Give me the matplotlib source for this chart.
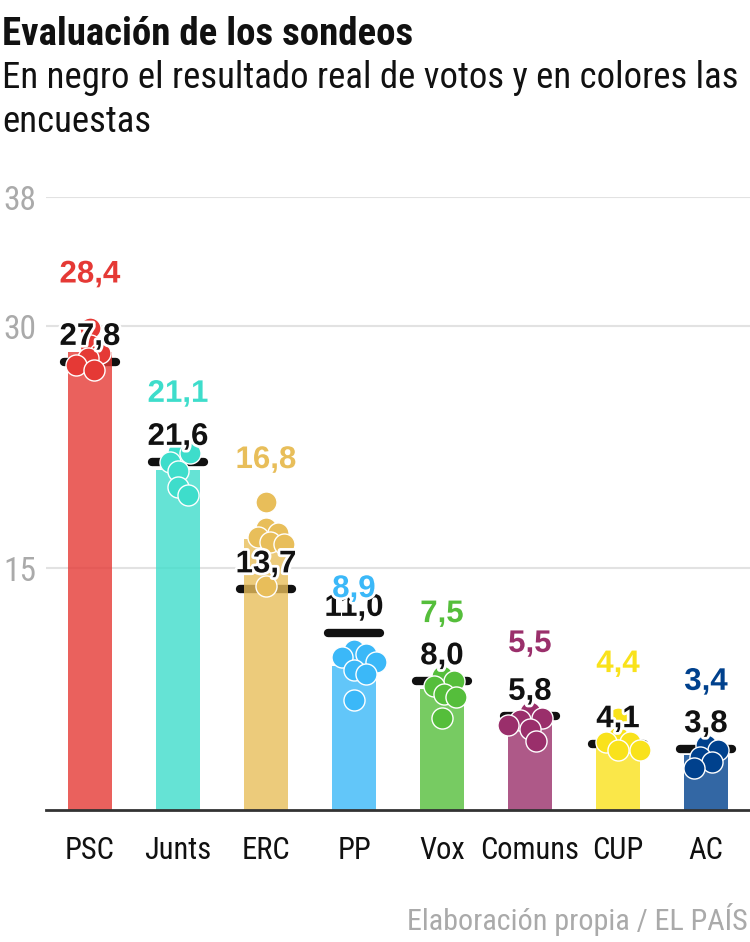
import matplotlib.pyplot as plt
import matplotlib.patheffects as pe

# data
parties = ['PSC', 'Junts', 'ERC', 'PP', 'Vox', 'Comuns', 'CUP', 'AC']
poll_avg = [28.4, 21.1, 16.8, 8.9, 7.5, 5.5, 4.4, 3.4]
real_result = [27.8, 21.6, 13.7, 11.0, 8.0, 5.8, 4.1, 3.8]
polls = [
    [29.9, 28.8, 28.3, 28.0, 27.6, 27.3],
    [22.2, 22.1, 21.6, 21.0, 20.0, 19.5],
    [19.1, 17.5, 17.2, 16.9, 16.6, 16.5, 13.9],
    [9.9, 9.7, 9.5, 9.2, 8.7, 8.4, 6.8],
    [8.3, 8.0, 7.7, 7.2, 7.0, 5.7],
    [6.1, 5.7, 5.6, 5.3, 5.0, 4.3],
    [5.7, 4.5, 4.2, 4.2, 3.7, 3.7],
    [4.0, 3.7, 3.3, 3.0, 2.6],
]
colors = ['#E53935', '#3EDDCB', '#E8BE5A', '#3BB8F8',
          '#55BE3B', '#9A2F6B', '#F9E21B', '#00418D']
# baseline of the coloured (poll) labels, in data units
poll_label_y = [32.7, 25.3, 21.2, 13.2, 11.65, 9.8, 8.55, 7.45]

narrow = ['Roboto Condensed', 'Liberation Sans Narrow', 'Roboto', 'DejaVu Sans']
plt.rcParams['font.family'] = narrow

W, H = 750, 942
fig = plt.figure(figsize=(W / 100, H / 100), dpi=100)
ax = fig.add_axes([46 / W, 132 / H, (W - 46) / W, (810 - 197) / H])
ax.set_xlim(-0.5, len(parties) - 0.5)
ax.set_ylim(0, 38)

# pixels per data unit, used for the swarm layout
ppx = (W - 46) / len(parties)
ppy = (810 - 197) / 38


def swarm_offsets(vals, min_d=12, step=2):
    placed, offs = [], []
    for v in vals:
        y = v * ppy
        k = 0
        while True:
            cands = [0.0] if k == 0 else [k * step, -k * step]
            hit = None
            for c in cands:
                if all((c - px) ** 2 + (y - py) ** 2 >= min_d ** 2 for px, py in placed):
                    hit = c
                    break
            if hit is not None:
                break
            k += 1
        placed.append((hit, y))
        offs.append(hit / ppx)
    return offs


halo = [pe.withStroke(linewidth=4, foreground='white')]
x = list(range(len(parties)))

# real result lines (under the translucent bars)
for i, r in enumerate(real_result):
    ax.plot([i - 0.3, i + 0.3], [r, r], color='#111111', lw=6,
            solid_capstyle='round', zorder=2, clip_on=False)

ax.bar(x, poll_avg, width=0.51, color=colors, alpha=0.8, zorder=3)

# individual polls
for i, vals in enumerate(polls):
    offs = swarm_offsets(vals)
    ax.scatter([i + o for o in offs], vals, s=230, color=colors[i],
               edgecolor='white', linewidth=1, zorder=4, clip_on=False)

# labels
for i, r in enumerate(real_result):
    ax.annotate(f'{r:.1f}'.replace('.', ','), (i, r), xytext=(0, 12),
                textcoords='offset points', ha='center', va='baseline',
                fontsize=22.5, fontweight='bold', family='Liberation Sans',
                color='#111111', path_effects=halo, zorder=5)
for i, v in enumerate(poll_avg):
    ax.text(i, poll_label_y[i], f'{v:.1f}'.replace('.', ','),
            ha='center', va='baseline', fontsize=22.5, fontweight='bold',
            family='Liberation Sans', color=colors[i],
            path_effects=halo, zorder=6)

# axes styling
ax.set_yticks([15, 30, 38])
ax.set_yticklabels(['15', '30', '38'], fontsize=24, color='#aaaaaa')
ax.tick_params(axis='y', length=0, pad=31)
for lab in ax.get_yticklabels():
    lab.set_horizontalalignment('left')
ax.set_xticks(x)
ax.set_xticklabels(parties, fontsize=22, color='#111111')
ax.tick_params(axis='x', length=0, pad=19)
ax.grid(axis='y', color='#e2e2e2', lw=1.5, zorder=0)
ax.set_axisbelow(True)
for s in ['left', 'right', 'top']:
    ax.spines[s].set_visible(False)
ax.spines['bottom'].set_color('#333333')
ax.spines['bottom'].set_linewidth(2)
ax.spines['bottom'].set_zorder(7)

# titles
fig.text(2 / W, 1 - 45 / H, 'Evaluación de los sondeos', fontsize=28,
         fontweight='bold', ha='left', va='baseline', color='#111111')
fig.text(2 / W, 1 - 88 / H, 'En negro el resultado real de votos y en colores las',
         fontsize=26.5, ha='left', va='baseline', color='#111111')
fig.text(2 / W, 1 - 132 / H, 'encuestas', fontsize=26.5, ha='left',
         va='baseline', color='#111111')
fig.text(748 / W, 1 - 930 / H, 'Elaboración propia / EL PAÍS', fontsize=21.7,
         ha='right', va='baseline', color='#aaaaaa')

fig.savefig('out.png', dpi=100)
